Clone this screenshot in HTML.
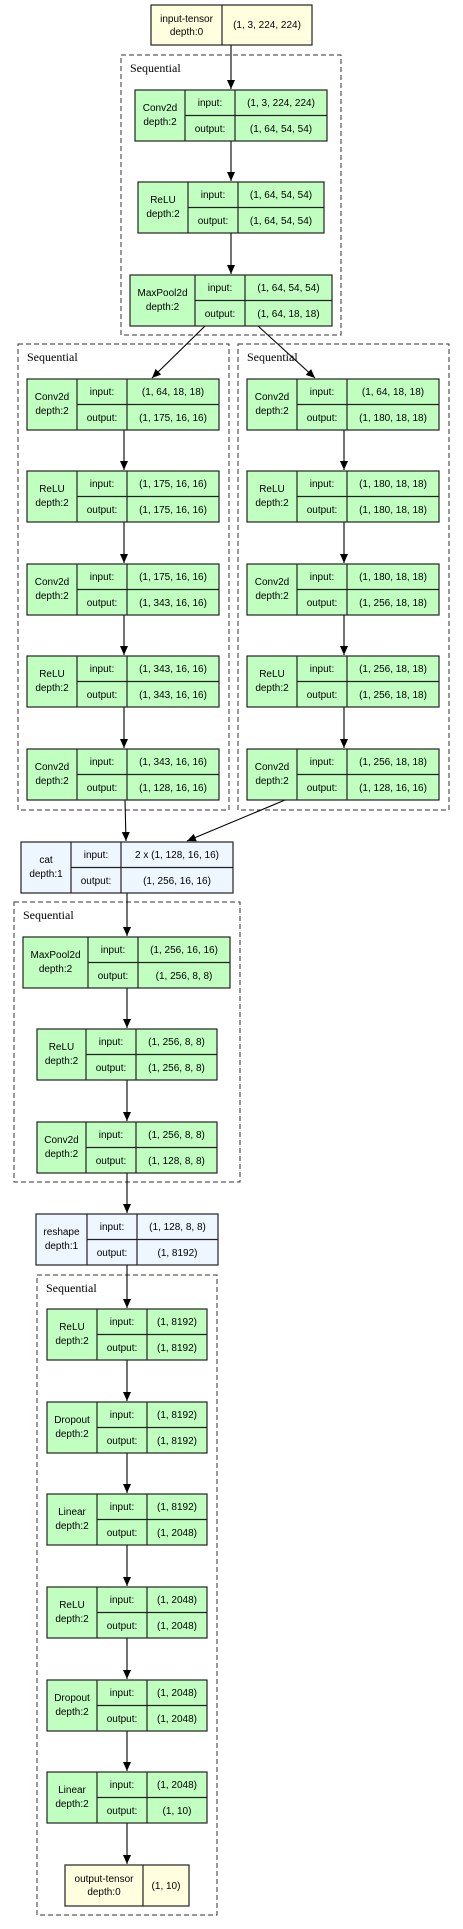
<!DOCTYPE html>
<html><head><meta charset="utf-8"><style>
html,body{margin:0;padding:0;background:#fff;}
svg{display:block;}
text{font-family:"Liberation Sans","DejaVu Sans",sans-serif;font-size:10px;fill:#000;}
.s{font-family:"Liberation Serif",serif;font-size:12px;}
.b{stroke:#222;stroke-width:1.2;}
.d{fill:none;stroke:#333;stroke-width:1;stroke-dasharray:5,3;}
.e{stroke:#000;stroke-width:1.1;fill:none;}
</style></head><body>
<svg width="463" height="1929" viewBox="0 0 463 1929" xmlns="http://www.w3.org/2000/svg">
<defs><marker id="a" markerWidth="10" markerHeight="10" refX="9" refY="4" orient="auto" markerUnits="userSpaceOnUse"><path d="M0,0 L9,4 L0,8 Z" fill="#000"/></marker></defs>

<!-- clusters -->
<rect class="d" x="121" y="55" width="220" height="280"/><text class="s" x="130" y="72">Sequential</text>
<rect class="d" x="18" y="344" width="211" height="466"/><text class="s" x="27" y="361">Sequential</text>
<rect class="d" x="238" y="344" width="211" height="466"/><text class="s" x="247" y="361">Sequential</text>
<rect class="d" x="14" y="902" width="226" height="280"/><text class="s" x="23" y="919">Sequential</text>
<rect class="d" x="37" y="1275" width="180" height="640"/><text class="s" x="46" y="1292">Sequential</text>

<!-- edges -->
<g class="e" marker-end="url(#a)">
<line x1="231" y1="45" x2="231" y2="89"/>
<line x1="231" y1="141" x2="231" y2="181"/>
<line x1="231" y1="233" x2="231" y2="274"/>
<line x1="205" y1="326" x2="152" y2="378"/>
<line x1="258" y1="326" x2="315" y2="378"/>
<line x1="124" y1="430" x2="124" y2="470"/>
<line x1="124" y1="522" x2="124" y2="563"/>
<line x1="124" y1="615" x2="124" y2="655"/>
<line x1="124" y1="707" x2="124" y2="748"/>
<line x1="344" y1="430" x2="344" y2="470"/>
<line x1="344" y1="522" x2="344" y2="563"/>
<line x1="344" y1="615" x2="344" y2="655"/>
<line x1="344" y1="707" x2="344" y2="748"/>
<line x1="125" y1="800" x2="126" y2="841"/>
<line x1="285" y1="800" x2="187" y2="841"/>
<line x1="127" y1="893" x2="127" y2="936"/>
<line x1="127" y1="988" x2="127" y2="1028"/>
<line x1="127" y1="1080" x2="127" y2="1121"/>
<line x1="127" y1="1173" x2="127" y2="1213"/>
<line x1="127" y1="1265" x2="127" y2="1308"/>
<line x1="127" y1="1360" x2="127" y2="1401"/>
<line x1="127" y1="1453" x2="127" y2="1493"/>
<line x1="127" y1="1545" x2="127" y2="1586"/>
<line x1="127" y1="1638" x2="127" y2="1679"/>
<line x1="127" y1="1731" x2="127" y2="1771"/>
<line x1="127" y1="1823" x2="127" y2="1864"/>
</g>

<!-- input tensor -->
<g><rect class="b" x="151" y="5" width="161" height="40" fill="#ffffe0"/><line class="b" x1="222" y1="5" x2="222" y2="45"/>
<text x="186.5" y="22" text-anchor="middle">input-tensor</text><text x="186.5" y="35" text-anchor="middle">depth:0</text>
<text x="267" y="28" text-anchor="middle">(1, 3, 224, 224)</text></g>

<!-- output tensor -->
<g><rect class="b" x="65" y="1865" width="124" height="41" fill="#ffffe0"/><line class="b" x1="143" y1="1865" x2="143" y2="1906"/>
<text x="104" y="1882" text-anchor="middle">output-tensor</text><text x="104" y="1895" text-anchor="middle">depth:0</text>
<text x="166" y="1889" text-anchor="middle">(1, 10)</text></g>

<!-- node template: x1,c1,c2,x2,y -->
<g id="nodes">
<!-- 1 -->
<g><rect class="b" x="135" y="90" width="192" height="51" fill="#c1ffc1"/><line class="b" x1="185" y1="90" x2="185" y2="141"/><line class="b" x1="235" y1="90" x2="235" y2="141"/><line class="b" x1="185" y1="115.5" x2="327" y2="115.5"/>
<text x="160" y="111" text-anchor="middle">Conv2d</text><text x="160" y="125" text-anchor="middle">depth:2</text>
<text x="210" y="106" text-anchor="middle">input:</text><text x="210" y="132" text-anchor="middle">output:</text>
<text x="281" y="106" text-anchor="middle">(1, 3, 224, 224)</text><text x="281" y="132" text-anchor="middle">(1, 64, 54, 54)</text></g>
<!-- 2 -->
<g><rect class="b" x="138" y="182" width="186" height="51" fill="#c1ffc1"/><line class="b" x1="188" y1="182" x2="188" y2="233"/><line class="b" x1="238" y1="182" x2="238" y2="233"/><line class="b" x1="188" y1="207.5" x2="324" y2="207.5"/>
<text x="163" y="203" text-anchor="middle">ReLU</text><text x="163" y="217" text-anchor="middle">depth:2</text>
<text x="213" y="198" text-anchor="middle">input:</text><text x="213" y="224" text-anchor="middle">output:</text>
<text x="281" y="198" text-anchor="middle">(1, 64, 54, 54)</text><text x="281" y="224" text-anchor="middle">(1, 64, 54, 54)</text></g>
<!-- 3 -->
<g><rect class="b" x="130" y="275" width="202" height="51" fill="#c1ffc1"/><line class="b" x1="195" y1="275" x2="195" y2="326"/><line class="b" x1="245" y1="275" x2="245" y2="326"/><line class="b" x1="195" y1="300.5" x2="332" y2="300.5"/>
<text x="162.5" y="296" text-anchor="middle">MaxPool2d</text><text x="162.5" y="310" text-anchor="middle">depth:2</text>
<text x="220" y="291" text-anchor="middle">input:</text><text x="220" y="317" text-anchor="middle">output:</text>
<text x="288.5" y="291" text-anchor="middle">(1, 64, 54, 54)</text><text x="288.5" y="317" text-anchor="middle">(1, 64, 18, 18)</text></g>

<!-- left branch -->
<g><rect class="b" x="27" y="379" width="192" height="51" fill="#c1ffc1"/><line class="b" x1="77" y1="379" x2="77" y2="430"/><line class="b" x1="127" y1="379" x2="127" y2="430"/><line class="b" x1="77" y1="404.5" x2="219" y2="404.5"/>
<text x="52" y="400" text-anchor="middle">Conv2d</text><text x="52" y="414" text-anchor="middle">depth:2</text>
<text x="102" y="395" text-anchor="middle">input:</text><text x="102" y="421" text-anchor="middle">output:</text>
<text x="173" y="395" text-anchor="middle">(1, 64, 18, 18)</text><text x="173" y="421" text-anchor="middle">(1, 175, 16, 16)</text></g>
<g><rect class="b" x="27" y="471" width="192" height="51" fill="#c1ffc1"/><line class="b" x1="77" y1="471" x2="77" y2="522"/><line class="b" x1="127" y1="471" x2="127" y2="522"/><line class="b" x1="77" y1="496.5" x2="219" y2="496.5"/>
<text x="52" y="492" text-anchor="middle">ReLU</text><text x="52" y="506" text-anchor="middle">depth:2</text>
<text x="102" y="487" text-anchor="middle">input:</text><text x="102" y="513" text-anchor="middle">output:</text>
<text x="173" y="487" text-anchor="middle">(1, 175, 16, 16)</text><text x="173" y="513" text-anchor="middle">(1, 175, 16, 16)</text></g>
<g><rect class="b" x="27" y="564" width="192" height="51" fill="#c1ffc1"/><line class="b" x1="77" y1="564" x2="77" y2="615"/><line class="b" x1="127" y1="564" x2="127" y2="615"/><line class="b" x1="77" y1="589.5" x2="219" y2="589.5"/>
<text x="52" y="585" text-anchor="middle">Conv2d</text><text x="52" y="599" text-anchor="middle">depth:2</text>
<text x="102" y="580" text-anchor="middle">input:</text><text x="102" y="606" text-anchor="middle">output:</text>
<text x="173" y="580" text-anchor="middle">(1, 175, 16, 16)</text><text x="173" y="606" text-anchor="middle">(1, 343, 16, 16)</text></g>
<g><rect class="b" x="27" y="656" width="192" height="51" fill="#c1ffc1"/><line class="b" x1="77" y1="656" x2="77" y2="707"/><line class="b" x1="127" y1="656" x2="127" y2="707"/><line class="b" x1="77" y1="681.5" x2="219" y2="681.5"/>
<text x="52" y="677" text-anchor="middle">ReLU</text><text x="52" y="691" text-anchor="middle">depth:2</text>
<text x="102" y="672" text-anchor="middle">input:</text><text x="102" y="698" text-anchor="middle">output:</text>
<text x="173" y="672" text-anchor="middle">(1, 343, 16, 16)</text><text x="173" y="698" text-anchor="middle">(1, 343, 16, 16)</text></g>
<g><rect class="b" x="27" y="749" width="192" height="51" fill="#c1ffc1"/><line class="b" x1="77" y1="749" x2="77" y2="800"/><line class="b" x1="127" y1="749" x2="127" y2="800"/><line class="b" x1="77" y1="774.5" x2="219" y2="774.5"/>
<text x="52" y="770" text-anchor="middle">Conv2d</text><text x="52" y="784" text-anchor="middle">depth:2</text>
<text x="102" y="765" text-anchor="middle">input:</text><text x="102" y="791" text-anchor="middle">output:</text>
<text x="173" y="765" text-anchor="middle">(1, 343, 16, 16)</text><text x="173" y="791" text-anchor="middle">(1, 128, 16, 16)</text></g>

<!-- right branch -->
<g><rect class="b" x="247" y="379" width="192" height="51" fill="#c1ffc1"/><line class="b" x1="297" y1="379" x2="297" y2="430"/><line class="b" x1="347" y1="379" x2="347" y2="430"/><line class="b" x1="297" y1="404.5" x2="439" y2="404.5"/>
<text x="272" y="400" text-anchor="middle">Conv2d</text><text x="272" y="414" text-anchor="middle">depth:2</text>
<text x="322" y="395" text-anchor="middle">input:</text><text x="322" y="421" text-anchor="middle">output:</text>
<text x="393" y="395" text-anchor="middle">(1, 64, 18, 18)</text><text x="393" y="421" text-anchor="middle">(1, 180, 18, 18)</text></g>
<g><rect class="b" x="247" y="471" width="192" height="51" fill="#c1ffc1"/><line class="b" x1="297" y1="471" x2="297" y2="522"/><line class="b" x1="347" y1="471" x2="347" y2="522"/><line class="b" x1="297" y1="496.5" x2="439" y2="496.5"/>
<text x="272" y="492" text-anchor="middle">ReLU</text><text x="272" y="506" text-anchor="middle">depth:2</text>
<text x="322" y="487" text-anchor="middle">input:</text><text x="322" y="513" text-anchor="middle">output:</text>
<text x="393" y="487" text-anchor="middle">(1, 180, 18, 18)</text><text x="393" y="513" text-anchor="middle">(1, 180, 18, 18)</text></g>
<g><rect class="b" x="247" y="564" width="192" height="51" fill="#c1ffc1"/><line class="b" x1="297" y1="564" x2="297" y2="615"/><line class="b" x1="347" y1="564" x2="347" y2="615"/><line class="b" x1="297" y1="589.5" x2="439" y2="589.5"/>
<text x="272" y="585" text-anchor="middle">Conv2d</text><text x="272" y="599" text-anchor="middle">depth:2</text>
<text x="322" y="580" text-anchor="middle">input:</text><text x="322" y="606" text-anchor="middle">output:</text>
<text x="393" y="580" text-anchor="middle">(1, 180, 18, 18)</text><text x="393" y="606" text-anchor="middle">(1, 256, 18, 18)</text></g>
<g><rect class="b" x="247" y="656" width="192" height="51" fill="#c1ffc1"/><line class="b" x1="297" y1="656" x2="297" y2="707"/><line class="b" x1="347" y1="656" x2="347" y2="707"/><line class="b" x1="297" y1="681.5" x2="439" y2="681.5"/>
<text x="272" y="677" text-anchor="middle">ReLU</text><text x="272" y="691" text-anchor="middle">depth:2</text>
<text x="322" y="672" text-anchor="middle">input:</text><text x="322" y="698" text-anchor="middle">output:</text>
<text x="393" y="672" text-anchor="middle">(1, 256, 18, 18)</text><text x="393" y="698" text-anchor="middle">(1, 256, 18, 18)</text></g>
<g><rect class="b" x="247" y="749" width="192" height="51" fill="#c1ffc1"/><line class="b" x1="297" y1="749" x2="297" y2="800"/><line class="b" x1="347" y1="749" x2="347" y2="800"/><line class="b" x1="297" y1="774.5" x2="439" y2="774.5"/>
<text x="272" y="770" text-anchor="middle">Conv2d</text><text x="272" y="784" text-anchor="middle">depth:2</text>
<text x="322" y="765" text-anchor="middle">input:</text><text x="322" y="791" text-anchor="middle">output:</text>
<text x="393" y="765" text-anchor="middle">(1, 256, 18, 18)</text><text x="393" y="791" text-anchor="middle">(1, 128, 16, 16)</text></g>

<!-- cat -->
<g><rect class="b" x="21" y="842" width="212" height="51" fill="#eef6ff"/><line class="b" x1="71" y1="842" x2="71" y2="893"/><line class="b" x1="121" y1="842" x2="121" y2="893"/><line class="b" x1="71" y1="867.5" x2="233" y2="867.5"/>
<text x="46" y="863" text-anchor="middle">cat</text><text x="46" y="877" text-anchor="middle">depth:1</text>
<text x="96" y="858" text-anchor="middle">input:</text><text x="96" y="884" text-anchor="middle">output:</text>
<text x="177" y="858" text-anchor="middle">2 x (1, 128, 16, 16)</text><text x="177" y="884" text-anchor="middle">(1, 256, 16, 16)</text></g>

<!-- seq3 -->
<g><rect class="b" x="23" y="937" width="207" height="51" fill="#c1ffc1"/><line class="b" x1="88" y1="937" x2="88" y2="988"/><line class="b" x1="138" y1="937" x2="138" y2="988"/><line class="b" x1="88" y1="962.5" x2="230" y2="962.5"/>
<text x="55.5" y="958" text-anchor="middle">MaxPool2d</text><text x="55.5" y="972" text-anchor="middle">depth:2</text>
<text x="113" y="953" text-anchor="middle">input:</text><text x="113" y="979" text-anchor="middle">output:</text>
<text x="184" y="953" text-anchor="middle">(1, 256, 16, 16)</text><text x="184" y="979" text-anchor="middle">(1, 256, 8, 8)</text></g>
<g><rect class="b" x="37" y="1029" width="180" height="51" fill="#c1ffc1"/><line class="b" x1="86" y1="1029" x2="86" y2="1080"/><line class="b" x1="136" y1="1029" x2="136" y2="1080"/><line class="b" x1="86" y1="1054.5" x2="217" y2="1054.5"/>
<text x="61.5" y="1050" text-anchor="middle">ReLU</text><text x="61.5" y="1064" text-anchor="middle">depth:2</text>
<text x="111" y="1045" text-anchor="middle">input:</text><text x="111" y="1071" text-anchor="middle">output:</text>
<text x="176.5" y="1045" text-anchor="middle">(1, 256, 8, 8)</text><text x="176.5" y="1071" text-anchor="middle">(1, 256, 8, 8)</text></g>
<g><rect class="b" x="37" y="1122" width="180" height="51" fill="#c1ffc1"/><line class="b" x1="86" y1="1122" x2="86" y2="1173"/><line class="b" x1="136" y1="1122" x2="136" y2="1173"/><line class="b" x1="86" y1="1147.5" x2="217" y2="1147.5"/>
<text x="61.5" y="1143" text-anchor="middle">Conv2d</text><text x="61.5" y="1157" text-anchor="middle">depth:2</text>
<text x="111" y="1138" text-anchor="middle">input:</text><text x="111" y="1164" text-anchor="middle">output:</text>
<text x="176.5" y="1138" text-anchor="middle">(1, 256, 8, 8)</text><text x="176.5" y="1164" text-anchor="middle">(1, 128, 8, 8)</text></g>

<!-- reshape -->
<g><rect class="b" x="36" y="1214" width="182" height="51" fill="#eef6ff"/><line class="b" x1="87" y1="1214" x2="87" y2="1265"/><line class="b" x1="137" y1="1214" x2="137" y2="1265"/><line class="b" x1="87" y1="1239.5" x2="218" y2="1239.5"/>
<text x="61.5" y="1235" text-anchor="middle">reshape</text><text x="61.5" y="1249" text-anchor="middle">depth:1</text>
<text x="112" y="1230" text-anchor="middle">input:</text><text x="112" y="1256" text-anchor="middle">output:</text>
<text x="177.5" y="1230" text-anchor="middle">(1, 128, 8, 8)</text><text x="177.5" y="1256" text-anchor="middle">(1, 8192)</text></g>

<!-- seq4 -->
<g><rect class="b" x="47" y="1309" width="160" height="51" fill="#c1ffc1"/><line class="b" x1="97" y1="1309" x2="97" y2="1360"/><line class="b" x1="147" y1="1309" x2="147" y2="1360"/><line class="b" x1="97" y1="1334.5" x2="207" y2="1334.5"/>
<text x="72" y="1330" text-anchor="middle">ReLU</text><text x="72" y="1344" text-anchor="middle">depth:2</text>
<text x="122" y="1325" text-anchor="middle">input:</text><text x="122" y="1351" text-anchor="middle">output:</text>
<text x="177" y="1325" text-anchor="middle">(1, 8192)</text><text x="177" y="1351" text-anchor="middle">(1, 8192)</text></g>
<g><rect class="b" x="47" y="1402" width="160" height="51" fill="#c1ffc1"/><line class="b" x1="97" y1="1402" x2="97" y2="1453"/><line class="b" x1="147" y1="1402" x2="147" y2="1453"/><line class="b" x1="97" y1="1427.5" x2="207" y2="1427.5"/>
<text x="72" y="1423" text-anchor="middle">Dropout</text><text x="72" y="1437" text-anchor="middle">depth:2</text>
<text x="122" y="1418" text-anchor="middle">input:</text><text x="122" y="1444" text-anchor="middle">output:</text>
<text x="177" y="1418" text-anchor="middle">(1, 8192)</text><text x="177" y="1444" text-anchor="middle">(1, 8192)</text></g>
<g><rect class="b" x="47" y="1494" width="160" height="51" fill="#c1ffc1"/><line class="b" x1="97" y1="1494" x2="97" y2="1545"/><line class="b" x1="147" y1="1494" x2="147" y2="1545"/><line class="b" x1="97" y1="1519.5" x2="207" y2="1519.5"/>
<text x="72" y="1515" text-anchor="middle">Linear</text><text x="72" y="1529" text-anchor="middle">depth:2</text>
<text x="122" y="1510" text-anchor="middle">input:</text><text x="122" y="1536" text-anchor="middle">output:</text>
<text x="177" y="1510" text-anchor="middle">(1, 8192)</text><text x="177" y="1536" text-anchor="middle">(1, 2048)</text></g>
<g><rect class="b" x="47" y="1587" width="160" height="51" fill="#c1ffc1"/><line class="b" x1="97" y1="1587" x2="97" y2="1638"/><line class="b" x1="147" y1="1587" x2="147" y2="1638"/><line class="b" x1="97" y1="1612.5" x2="207" y2="1612.5"/>
<text x="72" y="1608" text-anchor="middle">ReLU</text><text x="72" y="1622" text-anchor="middle">depth:2</text>
<text x="122" y="1603" text-anchor="middle">input:</text><text x="122" y="1629" text-anchor="middle">output:</text>
<text x="177" y="1603" text-anchor="middle">(1, 2048)</text><text x="177" y="1629" text-anchor="middle">(1, 2048)</text></g>
<g><rect class="b" x="47" y="1680" width="160" height="51" fill="#c1ffc1"/><line class="b" x1="97" y1="1680" x2="97" y2="1731"/><line class="b" x1="147" y1="1680" x2="147" y2="1731"/><line class="b" x1="97" y1="1705.5" x2="207" y2="1705.5"/>
<text x="72" y="1701" text-anchor="middle">Dropout</text><text x="72" y="1715" text-anchor="middle">depth:2</text>
<text x="122" y="1696" text-anchor="middle">input:</text><text x="122" y="1722" text-anchor="middle">output:</text>
<text x="177" y="1696" text-anchor="middle">(1, 2048)</text><text x="177" y="1722" text-anchor="middle">(1, 2048)</text></g>
<g><rect class="b" x="47" y="1772" width="160" height="51" fill="#c1ffc1"/><line class="b" x1="97" y1="1772" x2="97" y2="1823"/><line class="b" x1="147" y1="1772" x2="147" y2="1823"/><line class="b" x1="97" y1="1797.5" x2="207" y2="1797.5"/>
<text x="72" y="1793" text-anchor="middle">Linear</text><text x="72" y="1807" text-anchor="middle">depth:2</text>
<text x="122" y="1788" text-anchor="middle">input:</text><text x="122" y="1814" text-anchor="middle">output:</text>
<text x="177" y="1788" text-anchor="middle">(1, 2048)</text><text x="177" y="1814" text-anchor="middle">(1, 10)</text></g>
</g>
</svg>
</body></html>
